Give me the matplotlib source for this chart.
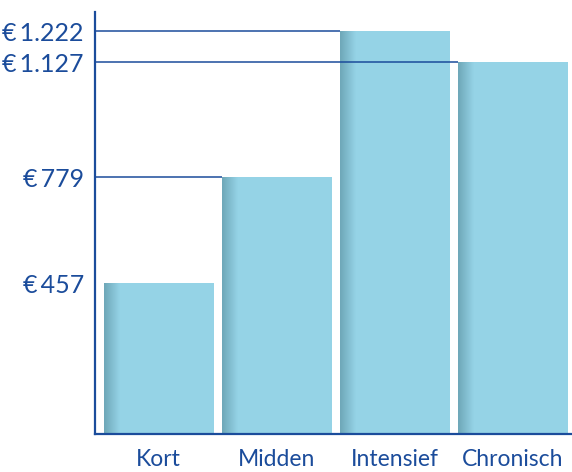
import numpy as np
import matplotlib
matplotlib.use("Agg")
import matplotlib.pyplot as plt

# data
categories = ["Kort", "Midden", "Intensief", "Chronisch"]
values = [457, 779, 1222, 1127]
value_labels = ["€\u2009457", "€\u2009779", "€\u20091.222", "€\u20091.127"]

blue = "#1b4c9b"
bar_color = "#95d3e6"
shade = "#6ea7b8"

plt.rcParams["font.family"] = ["Lato", "DejaVu Sans"]

fig = plt.figure(figsize=(5.72, 4.72), dpi=100)
ax = fig.add_axes([0.166, 0.0805, 0.834, 0.894])

x = np.arange(len(categories))
width = 0.93
bars = ax.bar(x, values, width=width, color=bar_color, zorder=2)

# donkere rand links op elke staaf (zachte overgang)
grad = np.linspace(0, 1, 64).reshape(1, -1)
cmap = matplotlib.colors.LinearSegmentedColormap.from_list("sh", [shade, bar_color])
for b in bars:
    x0 = b.get_x()
    ax.imshow(grad, cmap=cmap, aspect="auto", zorder=3,
              extent=[x0, x0 + 0.13, 0, b.get_height()], interpolation="bilinear")

# horizontale lijnen van de as naar de staaf
xmin = -0.54
for i, v in enumerate(values):
    if i == 0:
        continue
    ax.plot([xmin, x[i] - width / 2], [v, v], color=blue, lw=1.1, zorder=4,
            solid_capstyle="butt")

ax.set_xlim(xmin, 3.5)
ax.set_ylim(0, 1280)

ax.set_yticks(values)
ax.set_yticklabels(value_labels)
ax.set_xticks(x)
ax.set_xticklabels(categories)
ax.tick_params(axis="y", length=0, pad=8, labelsize=18, labelcolor=blue)
ax.tick_params(axis="x", length=0, pad=11, labelsize=16.5, labelcolor=blue)

for s in ["top", "right"]:
    ax.spines[s].set_visible(False)
for s in ["left", "bottom"]:
    ax.spines[s].set_color(blue)
    ax.spines[s].set_linewidth(1.6)
    ax.spines[s].set_zorder(5)

fig.savefig("out.png", dpi=100)
